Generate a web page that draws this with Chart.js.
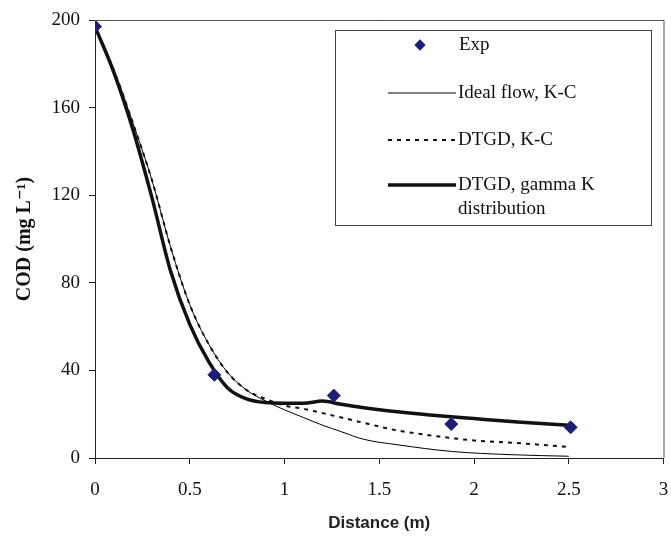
<!DOCTYPE html>
<html>
<head>
<meta charset="UTF-8">
<script src="https://cdn.jsdelivr.net/npm/chart.js"></script>
<style>
  * { margin: 0; padding: 0; }
  body { background: #fff; width: 671px; height: 538px; overflow: hidden; }
  #wrap { position: relative; width: 671px; height: 538px; }
</style>
</head>
<body>
<div id="wrap"><canvas id="chart" width="671" height="538"></canvas></div>
<script>
// measured points
const expX = [0, 0.63, 1.26, 1.88, 2.51];
const expY = [197, 38, 28.5, 15.5, 14];

// model curves
const idealX = [0, 0.1, 0.2, 0.3, 0.4, 0.5, 0.6, 0.7, 0.8, 0.9, 1.0, 1.1, 1.2, 1.3, 1.42, 1.6, 1.88, 2.2, 2.5];
const idealY = [197, 177, 153, 127, 96, 70, 52, 39, 31, 26, 22, 18.5, 15, 12, 8.5, 6, 3, 1.5, 0.8];

const kcX = [0, 0.1, 0.2, 0.3, 0.4, 0.5, 0.6, 0.7, 0.8, 0.9, 1.0, 1.1, 1.2, 1.3, 1.42, 1.6, 1.8, 2.0, 2.2, 2.5];
const kcY = [197, 177, 153, 127, 96, 70, 52, 39, 31, 27, 24, 22.5, 20.5, 18.5, 16, 12.5, 10, 8, 7, 5];

const gammaX = [0, 0.1, 0.2, 0.3, 0.4, 0.5, 0.6, 0.7, 0.8, 0.9, 1.0, 1.1, 1.2, 1.3, 1.5, 1.75, 2.0, 2.25, 2.5];
const gammaY = [197, 176, 150, 119, 85, 61, 44, 32, 27, 25.3, 25, 25, 26, 24.5, 22, 19.8, 18, 16.3, 15];

const xTicks = [0, 0.5, 1, 1.5, 2, 2.5, 3];
const yTicks = [0, 40, 80, 120, 160, 200];

const legendLabels = ['Exp', 'Ideal flow, K-C', 'DTGD, K-C', ['DTGD, gamma K', 'distribution']];

function pts(xs, ys) { return xs.map((x, i) => ({ x: x, y: ys[i] })); }

const serif = '"Liberation Serif", "DejaVu Serif", serif';
const sans = '"Liberation Sans", Arial, sans-serif';

// frame round the plot area + legend box inside it
const framePlugin = {
  id: 'frame',
  afterDraw(chart) {
    const ctx = chart.ctx, a = chart.chartArea;
    ctx.save();
    ctx.strokeStyle = '#555';
    ctx.lineWidth = 1;
    ctx.beginPath();
    ctx.moveTo(a.left, a.top + 0.5); ctx.lineTo(a.right + 0.5, a.top + 0.5); ctx.lineTo(a.right + 0.5, a.bottom);
    ctx.stroke();

    // legend
    const bx = 335.5, by = 30.5, bw = 316, bh = 195;
    ctx.strokeStyle = '#444';
    ctx.fillStyle = '#fff';
    ctx.fillRect(bx, by, bw, bh);
    ctx.strokeRect(bx, by, bw, bh);
    const ds = chart.data.datasets;
    const rows = [45, 93, 140, 185];
    ctx.font = '19px ' + serif;
    ctx.textBaseline = 'middle';
    ctx.fillStyle = '#111';
    rows.forEach((y, i) => {
      const d = ds[i];
      if (i === 0) {
        ctx.save();
        ctx.fillStyle = d.backgroundColor;
        ctx.translate(420, y);
        ctx.rotate(Math.PI / 4);
        ctx.fillRect(-4, -4, 8, 8);
        ctx.restore();
      } else {
        ctx.save();
        ctx.strokeStyle = d.borderColor;
        ctx.lineWidth = d.borderWidth;
        ctx.setLineDash(d.borderDash || []);
        ctx.beginPath(); ctx.moveTo(388, y); ctx.lineTo(456, y); ctx.stroke();
        ctx.restore();
      }
      const lab = legendLabels[i];
      const tx = i === 0 ? 459 : 458;
      if (Array.isArray(lab)) {
        lab.forEach((t, j) => ctx.fillText(t, tx, y + j * 24));
      } else {
        ctx.fillText(lab, tx, y);
      }
    });
    ctx.restore();
  }
};

new Chart(document.getElementById('chart'), {
  type: 'scatter',
  data: {
    datasets: [
      { label: 'Exp', data: pts(expX, expY), pointStyle: 'rectRot', pointRadius: 6.5,
        backgroundColor: '#1e1e78', borderColor: '#1e1e78', showLine: false, order: 0 },
      { label: 'Ideal flow, K-C', data: pts(idealX, idealY), showLine: true, pointRadius: 0,
        borderColor: '#000', borderWidth: 1, cubicInterpolationMode: 'monotone', order: 3 },
      { label: 'DTGD, K-C', data: pts(kcX, kcY), showLine: true, pointRadius: 0,
        borderColor: '#111', borderWidth: 2, borderDash: [4, 5], cubicInterpolationMode: 'monotone', order: 2 },
      { label: 'DTGD, gamma K distribution', data: pts(gammaX, gammaY), showLine: true, pointRadius: 0,
        borderColor: '#111', borderWidth: 3.5, cubicInterpolationMode: 'monotone', order: 1 }
    ]
  },
  options: {
    responsive: false,
    animation: false,
    layout: { padding: { top: 20, right: 6, left: 0, bottom: 0 } },
    plugins: { legend: { display: false }, tooltip: { enabled: false } },
    scales: {
      x: {
        type: 'linear', min: 0, max: 3,
        afterFit(s) { s.height = 80; s.paddingLeft = 0; s.paddingRight = 0; },
        afterBuildTicks(s) { s.ticks = xTicks.map(v => ({ value: v })); },
        border: { color: '#222', width: 1 },
        grid: { drawOnChartArea: false, drawTicks: true, tickLength: 6, tickColor: '#222', tickWidth: 1, color: '#222' },
        ticks: { color: '#111', padding: 15, font: { family: serif, size: 19 }, callback: v => String(v) },
        title: { display: true, text: 'Distance (m)', color: '#222', padding: { top: 8 },
          font: { family: sans, size: 17, weight: 'bold' } }
      },
      y: {
        min: 0, max: 200,
        afterFit(s) { s.width = 95; s.paddingTop = 0; s.paddingBottom = 0; },
        afterBuildTicks(s) { s.ticks = yTicks.map(v => ({ value: v })); },
        border: { color: '#222', width: 1 },
        grid: { drawOnChartArea: false, drawTicks: true, tickLength: 6, tickColor: '#222', tickWidth: 1, color: '#222' },
        ticks: { color: '#111', padding: 9, font: { family: serif, size: 19 }, callback: v => String(v) },
        title: { display: true, text: 'COD (mg L\u207B\u00B9)', color: '#111', padding: { top: 13, bottom: 0 },
          font: { family: serif, size: 20, weight: 'bold' } }
      }
    }
  },
  plugins: [framePlugin]
});
</script>
</body>
</html>
